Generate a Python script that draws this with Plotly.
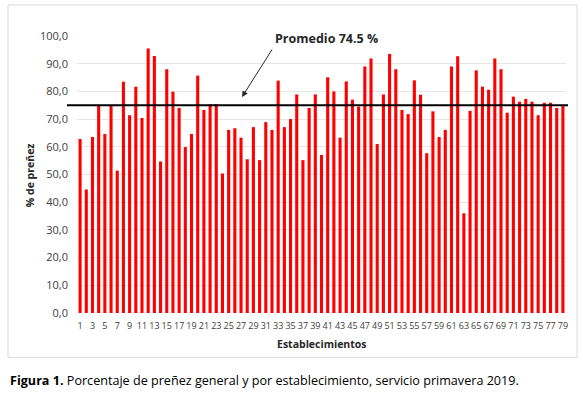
import plotly.graph_objects as go

establecimientos = list(range(1, 80))
prenez = [62.8, 44.6, 63.5, 75.1, 64.6, 75.1, 51.4, 83.5, 71.4, 81.7,
          70.4, 95.5, 92.8, 54.7, 88.0, 79.9, 74.0, 59.9, 64.6, 85.7,
          73.3, 75.4, 75.4, 50.4, 66.1, 66.7, 63.3, 55.5, 67.1, 55.2,
          68.9, 66.1, 83.9, 67.1, 70.0, 78.9, 55.2, 74.0, 78.9, 57.0,
          85.1, 80.0, 63.3, 83.6, 77.0, 74.5, 89.0, 91.9, 61.0, 78.9,
          93.5, 88.0, 73.3, 71.8, 84.0, 78.8, 57.7, 72.8, 63.5, 66.1,
          89.0, 92.7, 36.0, 73.0, 87.6, 81.7, 80.6, 91.9, 88.0, 72.3,
          78.1, 76.3, 77.3, 76.3, 71.4, 75.9, 75.9, 74.0, 74.7]
promedio_linea = 75.0
promedio_texto = "Promedio 74.5 %"
y_ticks = [0, 10, 20, 30, 40, 50, 60, 70, 80, 90, 100]
y_ticktext = [f"{v:.1f}".replace(".", ",") for v in y_ticks]
x_ticks = [v for v in establecimientos if v % 2 == 1]

W, H = 583, 397
L, R, T, B = 77, 17, 36, 84.3
pw, ph = W - L - R, H - T - B

def px(x):
    return (x - L) / pw

def py(y):
    return (H - B - y) / ph

FONT = "Open Sans"

fig = go.Figure()
fig.add_trace(go.Bar(x=establecimientos, y=prenez, marker_color="#ff0000",
                     marker_line_width=0, width=0.5))

fig.add_shape(type="line", xref="paper", yref="y", x0=px(67), x1=px(568),
              y0=promedio_linea, y1=promedio_linea,
              line=dict(color="#000000", width=2))
fig.add_shape(type="rect", xref="paper", yref="paper", x0=px(8), x1=px(577),
              y0=py(357), y1=py(5), line=dict(color="#d9d9d9", width=1),
              layer="below")

fig.add_annotation(xref="paper", yref="paper", x=px(326), y=py(38),
                   xanchor="center", yanchor="middle",
                   text="<b>" + promedio_texto + "</b>", showarrow=False,
                   font=dict(family=FONT, size=12.5, color="#262626"),
                   bgcolor="#ffffff")
fig.add_annotation(xref="paper", yref="paper", x=px(242), y=py(97),
                   ax=273 - 242, ay=48 - 97,
                   text="", showarrow=True, arrowhead=2, arrowsize=1.2,
                   arrowwidth=1, arrowcolor="#262626")
fig.add_annotation(xref="paper", yref="paper", x=px(322), y=py(344),
                   xanchor="center", yanchor="middle",
                   text="<b>Establecimientos</b>", showarrow=False,
                   font=dict(family=FONT, size=10.5, color="#262626"))
fig.add_annotation(xref="paper", yref="paper", x=px(30), y=py(175),
                   xanchor="center", yanchor="middle",
                   text="<b>% de preñez</b>", showarrow=False, textangle=-90,
                   font=dict(family=FONT, size=10.5, color="#262626"))
fig.add_annotation(xref="paper", yref="paper", x=px(8), y=py(380),
                   xanchor="left", yanchor="middle",
                   text="<b>Figura 1.</b> Porcentaje de preñez general y por establecimiento, servicio primavera 2019.",
                   showarrow=False,
                   font=dict(family=FONT, size=12.6, color="#000000"))

fig.update_layout(
    width=W, height=H,
    margin=dict(l=L, r=R, t=T, b=B),
    paper_bgcolor="#ffffff", plot_bgcolor="#ffffff",
    showlegend=False,
    font=dict(family=FONT, color="#595959"),
    xaxis=dict(range=[0.5, 79.5], tickmode="array", tickvals=x_ticks,
               ticktext=[str(v) for v in x_ticks], tickangle=0,
               tickfont=dict(size=9, color="#404040"), showgrid=False,
               showline=False, ticks="", ticklabelstandoff=6),
    yaxis=dict(range=[0, 100], tickmode="array", tickvals=y_ticks,
               ticktext=y_ticktext, tickfont=dict(size=11, color="#404040"),
               showgrid=True, gridcolor="#e6e6e6", gridwidth=1,
               zeroline=False, showline=False, ticks="", ticklabelstandoff=8),
)

fig.write_html("out.html", config={"displayModeBar": False},
               post_script="document.body.style.margin='0';document.body.style.overflow='hidden';")
